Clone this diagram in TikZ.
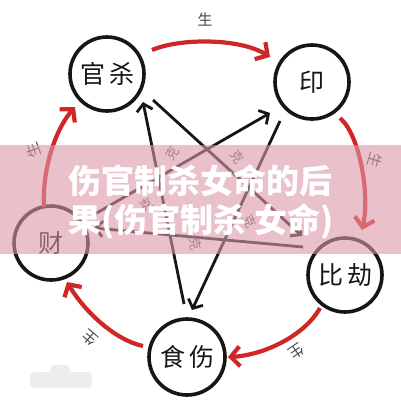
\documentclass[tikz,border=0pt]{standalone}
\usepackage{fontspec}
\newfontfamily\cjk{Noto Sans CJK SC}
\usetikzlibrary{arrows.meta}
\definecolor{arrowred}{RGB}{208,38,38}
\definecolor{bannerpink}{RGB}{220,153,169}
\definecolor{ink}{RGB}{22,22,22}
\tikzset{
  circ/.style={circle,draw=ink,line width=3.6pt,minimum size=74pt,inner sep=0pt,
    font=\cjk\fontsize{25}{25}\selectfont,text=ink},
  shengarrow/.style={draw=arrowred,line width=4.2pt,-{Straight Barb[length=9pt,width=20pt]}},
  kearrow/.style={draw=ink,line width=2.8pt,-{Straight Barb[length=7pt,width=16pt]}},
  shenglabel/.style={font=\cjk\fontsize{15}{15}\selectfont,text=black!72},
  kelabel/.style={font=\cjk\fontsize{13}{13}\selectfont,text=black!65},
  bannertext/.style={font=\cjk\bfseries\fontsize{33}{33}\selectfont,text=white},
}
\begin{document}
\begin{tikzpicture}[x=1pt,y=-1pt]
\useasboundingbox (0,0) rectangle (401,400);
\fill[white] (0,0) rectangle (401,400);
% faint smudge bottom-left
\fill[black!7,rounded corners=4pt] (30,372) rectangle (92,388);
\fill[black!7,rounded corners=4pt] (50,365) rectangle (70,374);

% circles
\node[circ] (gs) at (107,74) {官\hspace{4pt}杀};
\node[circ] (yin) at (312,82) {印};
\node[circ] (bj) at (345,275) {比\hspace{4pt}劫};
\node[circ,minimum size=76pt] (ss) at (187,357) {食\hspace{4pt}伤};
\node[circ] (cai) at (51,243) {财};

% sheng (red) arrow ends
\coordinate (a1s) at (152,50);  \coordinate (a1e) at (270,57);
\coordinate (a2s) at (340,118); \coordinate (a2e) at (362,230);
\coordinate (a3s) at (320,308); \coordinate (a3e) at (228,357);
\coordinate (a4s) at (143,346); \coordinate (a4e) at (67,282);
\coordinate (a5s) at (44,207);  \coordinate (a5e) at (75,107);

\draw[shengarrow] (a1s) .. controls (180,38) and (240,38) .. (a1e);
\draw[shengarrow] (a2s) .. controls (360,135) and (370,195) .. (a2e);
\draw[shengarrow] (a3s) .. controls (305,335) and (265,355) .. (a3e);
\draw[shengarrow] (a4s) .. controls (115,340) and (85,312) .. (a4e);
\draw[shengarrow] (a5s) .. controls (42,170) and (55,130) .. (a5e);

\node[shenglabel] (s1) at (205,20) {生};
\node[shenglabel,rotate=110] (s2) at (33,150) {生};
\node[shenglabel,rotate=-106] (s3) at (375,160) {生};
\node[shenglabel,rotate=-146] (s4) at (297,352) {生};
\node[shenglabel,rotate=139] (s5) at (90,338) {生};

% ke (black) arrow ends
\coordinate (k1s) at (184,304); \coordinate (k1e) at (143,102);
\coordinate (k2s) at (153,100); \coordinate (k2e) at (302,236);
\coordinate (k3s) at (95,214);  \coordinate (k3e) at (270,113);
\coordinate (k4s) at (280,121); \coordinate (k4e) at (192,310);
\coordinate (k5s) at (303,247); \coordinate (k5e) at (94,228);

\draw[kearrow] (k1s) -- (k1e);
\draw[kearrow] (k2s) -- (k2e);
\draw[kearrow] (k3s) -- (k3e);
\draw[kearrow] (k4s) -- (k4e);
\draw[kearrow] (k5s) -- (k5e);

\node[kelabel,rotate=55] (ke1) at (172,153) {克};
\node[kelabel,rotate=-55] (ke2) at (237,157) {克};
\node[kelabel,rotate=30] (ke3) at (147,205) {克};
\node[kelabel,rotate=-65] (ke4) at (250,221) {克};
\node[kelabel,rotate=-80] (ke5) at (195,244) {克};

% banner
\fill[bannerpink,fill opacity=0.6] (0,145) rectangle (401,254);
\node[bannertext] (t1) at (200,181) {伤官制杀女命的后};
\node[bannertext] (t2) at (201,221) {果(伤官制杀 女命)};
\end{tikzpicture}
\end{document}
